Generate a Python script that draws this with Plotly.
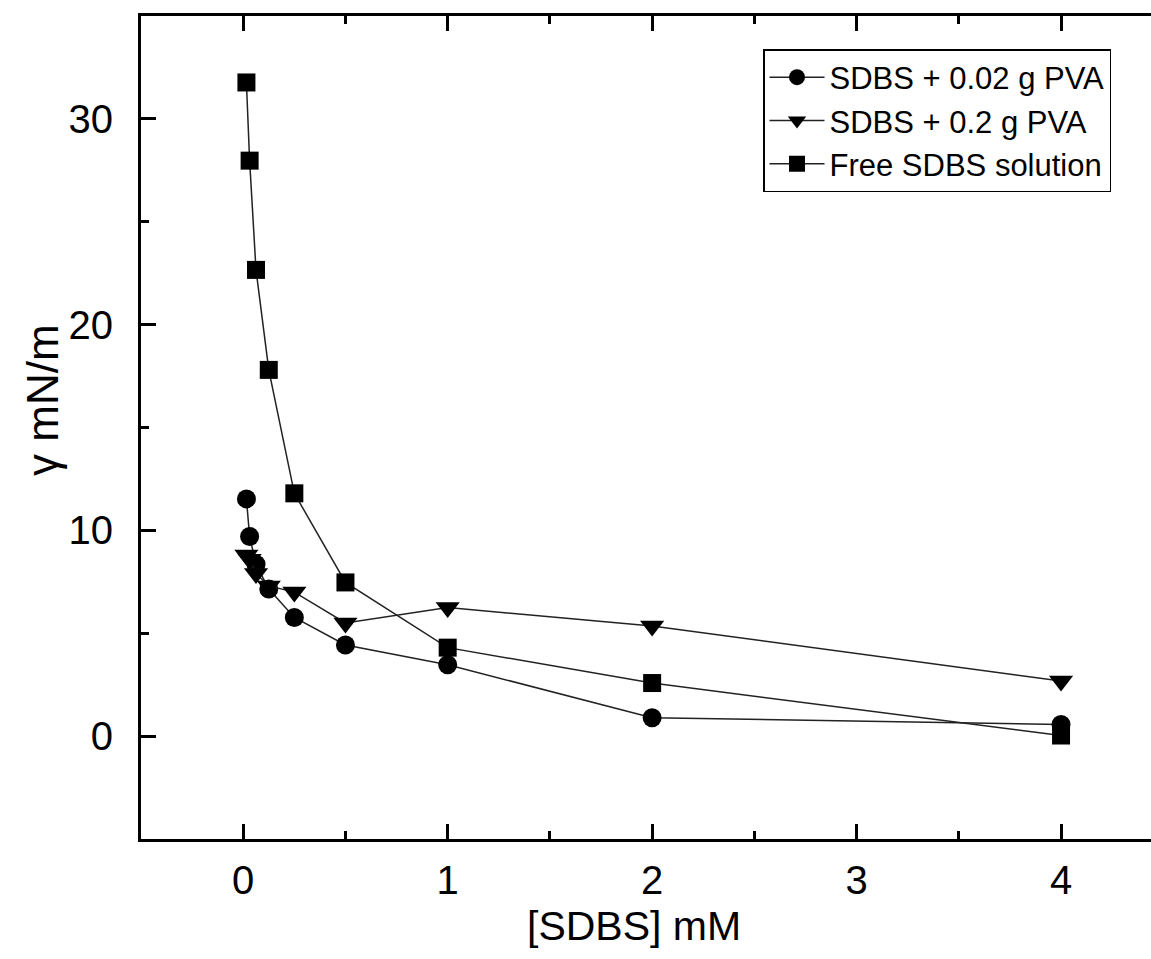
import plotly.graph_objects as go

# Data
sdbs_mM = [0.0156, 0.03125, 0.0625, 0.125, 0.25, 0.5, 1, 2, 4]
pva_002 = [11.53, 9.7, 8.35, 7.15, 5.77, 4.43, 3.47, 0.89, 0.57]
pva_02 = [8.8, 8.6, 7.9, 7.3, 7.0, 5.5, 6.25, 5.35, 2.68]
free_sdbs = [31.77, 27.97, 22.66, 17.8, 11.8, 7.47, 4.3, 2.58, 0.03]

names = ["SDBS + 0.02 g PVA", "SDBS + 0.2 g PVA", "Free SDBS solution"]
symbols = ["circle", "triangle-down", "square"]
sizes = [19, 21, 18]
series = [pva_002, pva_02, free_sdbs]

x_ticks = [0, 1, 2, 3, 4]
y_ticks = [0, 10, 20, 30]

FONT = "Liberation Sans, Arial, sans-serif"

fig = go.Figure()
for name, sym, sz, ys in zip(names, symbols, sizes, series):
    fig.add_trace(go.Scatter(
        x=sdbs_mM, y=ys, name=name, mode="lines+markers",
        line=dict(color="#222222", width=1.5),
        marker=dict(symbol=sym, size=sz, color="black", line=dict(width=0)),
    ))

W, H = 1151, 959
L, R, T, B = 141, 0, 16, 120

axis_common = dict(
    showgrid=False, zeroline=False, ticks="inside", ticklen=15, tickwidth=3,
    tickcolor="black", showline=True, linewidth=3, linecolor="black",
    tickfont=dict(family=FONT, size=40, color="black"),
)

fig.update_layout(
    width=W, height=H,
    margin=dict(l=L, r=R, t=T, b=B, pad=0),
    paper_bgcolor="white", plot_bgcolor="white",
    font=dict(family=FONT, color="black"),
    showlegend=True,
    legend=dict(
        x=(1111 - L) / (W - L - R), y=(H - B - 49) / (H - T - B),
        xanchor="right", yanchor="top",
        bgcolor="white", bordercolor="black", borderwidth=1.5,
        font=dict(family=FONT, size=31, color="black"),
        itemwidth=55, tracegroupgap=0,
    ),
    xaxis=dict(
        range=[-0.5, 4.44], tickvals=x_ticks, mirror="ticks",
        minor=dict(dtick=0.5, ticks="inside", ticklen=8, tickwidth=3, tickcolor="black"),
        ticklabelstandoff=4,
        **axis_common,
    ),
    yaxis=dict(
        range=[-5, 35], tickvals=y_ticks, mirror=False,
        minor=dict(dtick=5, ticks="inside", ticklen=8, tickwidth=3, tickcolor="black"),
        ticklabelstandoff=17,
        **axis_common,
    ),
    yaxis2=dict(
        overlaying="y", side="right", anchor="x", range=[-5, 35],
        tickvals=y_ticks, showticklabels=False, showgrid=False, zeroline=False,
        ticks="inside", ticklen=8, tickwidth=3, tickcolor="black", showline=False,
    ),
    annotations=[
        dict(text="[SDBS] mM", xref="paper", yref="paper", x=(634 - L) / (W - L - R), y=0,
             xanchor="center", yanchor="middle", yshift=-(926 - (H - B)), showarrow=False,
             font=dict(family=FONT, size=41, color="black")),
        dict(text="γ mN/m", xref="paper", yref="paper", x=0, y=(H - B - 400) / (H - T - B),
             xanchor="center", yanchor="middle", xshift=42 - L, textangle=-90, showarrow=False,
             font=dict(family=FONT, size=44, color="black")),
    ],
)

fig.write_html("out.html")
